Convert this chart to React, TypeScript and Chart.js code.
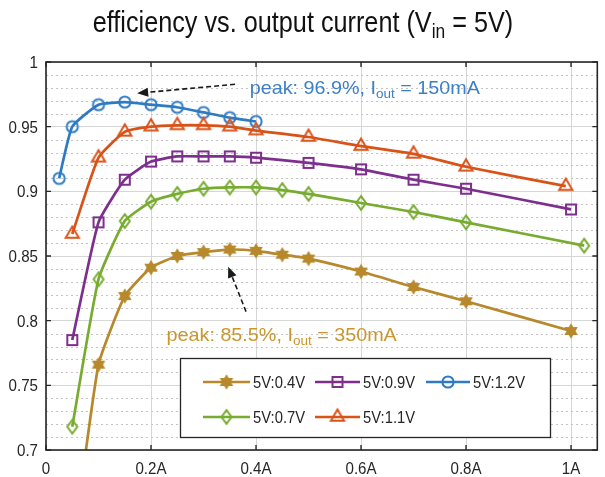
import React, { useEffect, useRef } from 'react';
import { Chart, registerables } from 'chart.js';

Chart.register(...registerables);

const FONT = '"Liberation Sans", Arial, Helvetica, sans-serif';

// Axis ticks
const xTicks = [0, 0.2, 0.4, 0.6, 0.8, 1.0];
const xTickLabels = ['0', '0.2A', '0.4A', '0.6A', '0.8A', '1A'];
const yTicks = [0.7, 0.75, 0.8, 0.85, 0.9, 0.95, 1.0];
const yTickLabels = ['0.7', '0.75', '0.8', '0.85', '0.9', '0.95', '1'];

// Efficiency vs. output current (A), one series per output voltage
const current04 = [0.05, 0.1, 0.15, 0.2, 0.25, 0.3, 0.35, 0.4, 0.45, 0.5, 0.6, 0.7, 0.8, 1.0];
const eff04 = [0.62, 0.766, 0.819, 0.841, 0.85, 0.853, 0.855, 0.854, 0.851, 0.848, 0.838, 0.826, 0.815, 0.792];

const current07 = [0.05, 0.1, 0.15, 0.2, 0.25, 0.3, 0.35, 0.4, 0.45, 0.5, 0.6, 0.7, 0.8, 1.025];
const eff07 = [0.718, 0.832, 0.877, 0.892, 0.898, 0.902, 0.903, 0.903, 0.901, 0.898, 0.891, 0.884, 0.876, 0.858];

const current09 = [0.05, 0.1, 0.15, 0.2, 0.25, 0.3, 0.35, 0.4, 0.5, 0.6, 0.7, 0.8, 1.0];
const eff09 = [0.785, 0.876, 0.909, 0.923, 0.927, 0.927, 0.927, 0.926, 0.922, 0.917, 0.909, 0.902, 0.886];

const current11 = [0.05, 0.1, 0.15, 0.2, 0.25, 0.3, 0.35, 0.4, 0.5, 0.6, 0.7, 0.8, 0.99];
const eff11 = [0.867, 0.926, 0.946, 0.95, 0.951, 0.951, 0.95, 0.947, 0.942, 0.935, 0.929, 0.919, 0.904];

const current12 = [0.025, 0.05, 0.1, 0.15, 0.2, 0.25, 0.3, 0.35, 0.4];
const eff12 = [0.91, 0.95, 0.967, 0.969, 0.967, 0.965, 0.961, 0.957, 0.954];

const seriesNames = ['5V:0.4V', '5V:0.7V', '5V:0.9V', '5V:1.1V', '5V:1.2V'];

// Peak call-outs
const peakHighLabel = { before: 'peak: 96.9%, ', sub: 'out', after: ' = 150mA' };
const peakLowLabel = { before: 'peak: 85.5%, ', sub: 'out', after: ' = 350mA' };

const GOLD = '#B7892C';
const GREEN = '#77AC30';
const PURPLE = '#7E2F8E';
const ORANGE = '#D95319';
const BLUE = '#2E7BC4';

type Part = { t: string; sub?: boolean };

function drawRich(
  ctx: CanvasRenderingContext2D,
  parts: Part[],
  x: number,
  y: number,
  size: number,
  color: string,
  align: 'left' | 'center' | 'right',
  sx = 1
) {
  ctx.save();
  ctx.fillStyle = color;
  ctx.textBaseline = 'alphabetic';
  ctx.textAlign = 'left';
  const fontFor = (sub?: boolean) => `${sub ? Math.round(size * 0.7) : size}px ${FONT}`;
  let total = 0;
  const widths = parts.map((p) => {
    ctx.font = fontFor(p.sub);
    const w = ctx.measureText(p.t).width;
    total += w;
    return w;
  });
  ctx.translate(x, y);
  ctx.scale(sx, 1);
  let cx = align === 'left' ? 0 : align === 'center' ? -total / 2 : -total;
  parts.forEach((p, i) => {
    ctx.font = fontFor(p.sub);
    ctx.fillText(p.t, cx, p.sub ? size * 0.22 : 0);
    cx += widths[i];
  });
  ctx.restore();
}

function makeMarker(kind: string, color: string): HTMLCanvasElement {
  const c = document.createElement('canvas');
  c.width = 20;
  c.height = 20;
  const g = c.getContext('2d')!;
  const m = 10;
  g.strokeStyle = color;
  g.fillStyle = color;
  g.lineWidth = 2;
  g.beginPath();
  if (kind === 'circle') {
    g.arc(m, m, 5.6, 0, Math.PI * 2);
    g.stroke();
  } else if (kind === 'square') {
    g.rect(m - 5, m - 5, 10, 10);
    g.stroke();
  } else if (kind === 'triangle') {
    const r = 7.6;
    g.moveTo(m, m - r);
    g.lineTo(m + r * 0.866, m + r * 0.5);
    g.lineTo(m - r * 0.866, m + r * 0.5);
    g.closePath();
    g.stroke();
  } else if (kind === 'diamond') {
    g.moveTo(m, m - 6.8);
    g.lineTo(m + 5, m);
    g.lineTo(m, m + 6.8);
    g.lineTo(m - 5, m);
    g.closePath();
    g.stroke();
  } else {
    // six-pointed star, filled
    const ro = 7.8;
    const ri = 4.5;
    for (let k = 0; k < 12; k++) {
      const r = k % 2 === 0 ? ro : ri;
      const a = -Math.PI / 2 + (k * Math.PI) / 6;
      const px = m + r * Math.cos(a);
      const py = m + r * Math.sin(a);
      if (k === 0) g.moveTo(px, py);
      else g.lineTo(px, py);
    }
    g.closePath();
    g.fill();
  }
  return c;
}

function drawArrow(ctx: CanvasRenderingContext2D, x1: number, y1: number, x2: number, y2: number) {
  const ang = Math.atan2(y2 - y1, x2 - x1);
  const headLen = 11;
  const headHalf = 4.5;
  const bx = x2 - headLen * Math.cos(ang);
  const by = y2 - headLen * Math.sin(ang);
  ctx.save();
  ctx.strokeStyle = '#1a1a1a';
  ctx.fillStyle = '#1a1a1a';
  ctx.lineWidth = 1.6;
  ctx.setLineDash([5, 3]);
  ctx.beginPath();
  ctx.moveTo(x1, y1);
  ctx.lineTo(bx, by);
  ctx.stroke();
  ctx.setLineDash([]);
  ctx.beginPath();
  ctx.moveTo(x2, y2);
  ctx.lineTo(bx + headHalf * Math.sin(ang), by - headHalf * Math.cos(ang));
  ctx.lineTo(bx - headHalf * Math.sin(ang), by + headHalf * Math.cos(ang));
  ctx.closePath();
  ctx.fill();
  ctx.restore();
}

export default function App() {
  const ref = useRef<HTMLCanvasElement>(null);

  useEffect(() => {
    document.body.style.margin = '0';
    const canvas = ref.current;
    if (!canvas) return;

    const colors = [GOLD, GREEN, PURPLE, ORANGE, BLUE];
    const kinds = ['hex', 'diamond', 'square', 'triangle', 'circle'];
    const markers = kinds.map((k, i) => makeMarker(k, colors[i]));
    const xs = [current04, current07, current09, current11, current12];
    const ys = [eff04, eff07, eff09, eff11, eff12];

    const TICK_SIZE = 17;
    const TICK_SX = 0.89;

    const decorations = {
      id: 'decorations',
      beforeDraw(chart: any) {
        const ctx = chart.ctx as CanvasRenderingContext2D;
        ctx.save();
        ctx.fillStyle = '#ffffff';
        ctx.fillRect(0, 0, chart.width, chart.height);
        ctx.restore();
      },
      beforeDatasetsDraw(chart: any) {
        const ctx = chart.ctx as CanvasRenderingContext2D;
        const { left, right } = chart.chartArea;
        const yS = chart.scales.y;
        ctx.save();
        ctx.strokeStyle = '#c4c4c4';
        ctx.lineWidth = 1;
        ctx.setLineDash([2, 3]);
        for (let k = 71; k < 100; k++) {
          if (k % 5 === 0) continue;
          const py = Math.round(yS.getPixelForValue(k / 100)) + 0.5;
          ctx.beginPath();
          ctx.moveTo(left, py);
          ctx.lineTo(right, py);
          ctx.stroke();
        }
        ctx.restore();
      },
      afterDatasetsDraw(chart: any) {
        const ctx = chart.ctx as CanvasRenderingContext2D;
        const { left, right, top, bottom } = chart.chartArea;
        const xS = chart.scales.x;
        const yS = chart.scales.y;

        // frame and inward ticks
        ctx.save();
        ctx.strokeStyle = '#262626';
        ctx.lineWidth = 1.6;
        ctx.strokeRect(left, top, right - left, bottom - top);
        ctx.lineWidth = 1.4;
        const tl = 5;
        xTicks.forEach((v) => {
          const px = xS.getPixelForValue(v);
          ctx.beginPath();
          ctx.moveTo(px, bottom);
          ctx.lineTo(px, bottom - tl);
          ctx.moveTo(px, top);
          ctx.lineTo(px, top + tl);
          ctx.stroke();
        });
        yTicks.forEach((v) => {
          const py = yS.getPixelForValue(v);
          ctx.beginPath();
          ctx.moveTo(left, py);
          ctx.lineTo(left + tl, py);
          ctx.moveTo(right, py);
          ctx.lineTo(right - tl, py);
          ctx.stroke();
        });
        ctx.restore();

        // tick labels
        xTicks.forEach((v, i) => {
          drawRich(ctx, [{ t: xTickLabels[i] }], xS.getPixelForValue(v), 474, TICK_SIZE, '#262626', 'center', TICK_SX);
        });
        yTicks.forEach((v, i) => {
          drawRich(ctx, [{ t: yTickLabels[i] }], left - 8, yS.getPixelForValue(v) + 6, TICK_SIZE, '#262626', 'right', TICK_SX);
        });

        // peak call-outs
        drawArrow(ctx, xS.getPixelForValue(0.36), yS.getPixelForValue(0.9828), xS.getPixelForValue(0.1736), yS.getPixelForValue(0.9758));
        drawRich(
          ctx,
          [{ t: peakHighLabel.before + 'I' }, { t: peakHighLabel.sub, sub: true }, { t: peakHighLabel.after }],
          xS.getPixelForValue(0.388),
          yS.getPixelForValue(0.9753),
          19,
          '#3D80C9',
          'left',
          1.04
        );
        drawArrow(ctx, xS.getPixelForValue(0.381), yS.getPixelForValue(0.807), xS.getPixelForValue(0.347), yS.getPixelForValue(0.8417));
        drawRich(
          ctx,
          [{ t: peakLowLabel.before + 'I' }, { t: peakLowLabel.sub, sub: true }, { t: peakLowLabel.after }],
          xS.getPixelForValue(0.2296),
          yS.getPixelForValue(0.7843),
          19,
          '#C9972E',
          'left',
          1.04
        );

        // legend box
        ctx.save();
        ctx.fillStyle = '#ffffff';
        ctx.fillRect(180, 358, 370, 79);
        ctx.strokeStyle = '#262626';
        ctx.lineWidth = 1.3;
        ctx.strokeRect(180.5, 358.5, 370, 79);
        ctx.restore();
        const cols = [
          { x0: 203, x1: 250, tx: 253 },
          { x0: 315, x1: 360, tx: 363 },
          { x0: 426, x1: 470, tx: 473 },
        ];
        const rows = [382, 417];
        const slots = [
          [0, 0],
          [1, 0],
          [0, 1],
          [1, 1],
          [0, 2],
        ];
        slots.forEach(([r, c], i) => {
          const col = cols[c];
          const ry = rows[r];
          ctx.save();
          ctx.strokeStyle = colors[i];
          ctx.lineWidth = 2.5;
          ctx.beginPath();
          ctx.moveTo(col.x0, ry);
          ctx.lineTo(col.x1, ry);
          ctx.stroke();
          const mk = markers[i];
          ctx.drawImage(mk, (col.x0 + col.x1) / 2 - mk.width / 2, ry - mk.height / 2);
          ctx.restore();
          drawRich(ctx, [{ t: seriesNames[i] }], col.tx, ry + 6, 17, '#262626', 'left', 0.87);
        });

        // title
        drawRich(
          ctx,
          [{ t: 'efficiency vs. output current (V' }, { t: 'in', sub: true }, { t: ' = 5V)' }],
          303,
          32,
          29,
          '#111111',
          'center',
          0.87
        );
      },
    };

    const chart = new Chart(canvas, {
      type: 'line',
      data: {
        datasets: seriesNames.map((name, i) => ({
          label: name,
          data: xs[i].map((x, j) => ({ x, y: ys[i][j] })),
          borderColor: colors[i],
          backgroundColor: colors[i],
          borderWidth: 2.7,
          pointStyle: markers[i] as any,
          pointRadius: 5,
          tension: 0.15,
          fill: false,
        })),
      },
      options: {
        responsive: false,
        animation: false,
        devicePixelRatio: 1,
        layout: { padding: { top: 62, right: 3, left: 0, bottom: 0 } },
        plugins: {
          legend: { display: false },
          tooltip: { enabled: false },
          title: { display: false },
        },
        scales: {
          x: {
            type: 'linear',
            min: 0,
            max: 1.05,
            afterBuildTicks: (s: any) => {
              s.ticks = xTicks.map((v) => ({ value: v }));
            },
            afterFit: (s: any) => {
              s.height = 27;
            },
            ticks: { display: false },
            grid: { color: '#d6d6d6', lineWidth: 1, drawTicks: false },
            border: { display: false },
          },
          y: {
            type: 'linear',
            min: 0.7,
            max: 1.0,
            afterBuildTicks: (s: any) => {
              s.ticks = yTicks.map((v) => ({ value: v }));
            },
            afterFit: (s: any) => {
              s.width = 46;
            },
            ticks: { display: false },
            grid: { color: '#d6d6d6', lineWidth: 1, drawTicks: false },
            border: { display: false },
          },
        },
      },
      plugins: [decorations],
    });

    return () => chart.destroy();
  }, []);

  return <canvas ref={ref} width={605} height={477} style={{ display: 'block', width: 605, height: 477 }} />;
}
